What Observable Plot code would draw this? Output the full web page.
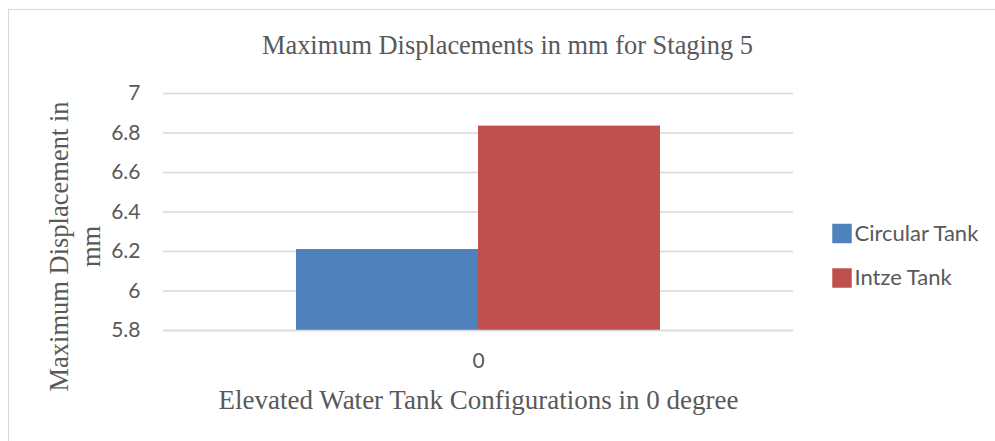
<!DOCTYPE html>
<html>
<head>
<meta charset="utf-8">
<script src="https://cdn.jsdelivr.net/npm/d3@7"></script>
<script src="https://cdn.jsdelivr.net/npm/@observablehq/plot@0.6"></script>
<style>
  html, body { margin: 0; padding: 0; background: #fff; overflow: hidden; }
  #wrap { position: relative; width: 995px; height: 441px; }
  #border { position: absolute; left: 8px; top: 9px; width: 2000px; height: 1000px;
            border: 1px solid #d9d9d9; pointer-events: none; }
</style>
</head>
<body>
<div id="wrap"><div id="border"></div></div>
<script>
// ---- data ----
const categories = ["0"];
const seriesNames = ["Circular Tank", "Intze Tank"];
const seriesValues = [6.21, 6.835];
const seriesColors = ["#4F81BD", "#C0504D"];
const yTicks = [5.8, 6, 6.2, 6.4, 6.6, 6.8, 7];
const yDomain = [5.8, 7];
const titleText = "Maximum Displacements in mm for Staging 5";
const xTitle = "Elevated Water Tank Configurations in 0 degree";
const yTitle = "Maximum Displacement in\nmm";

const rows = seriesNames.map((s, i) => ({config: categories[0], series: s, value: seriesValues[i]}));

const textGray = "#595959";
const serif = "'Liberation Serif', 'Times New Roman', serif";
const sans = "Lato, 'Open Sans', sans-serif";

const legendMarks = seriesNames.flatMap((s, i) => [
  Plot.dot([s], {frameAnchor: "right", dx: 48.5, dy: 21.5 + 44.5 * i, r: 11, symbol: "square",
                 fill: seriesColors[i], stroke: null}),
  Plot.text([s], {frameAnchor: "right", dx: 61, dy: 21.5 + 44.5 * i, text: d => d, textAnchor: "start",
                  lineAnchor: "middle", fontSize: 22, fontFamily: sans, fill: textGray})
]);

const chart = Plot.plot({
  width: 995,
  height: 441,
  marginTop: 93,
  marginBottom: 111,
  marginLeft: 163,
  marginRight: 202,
  style: {background: "#fff", overflow: "visible"},
  fx: {domain: categories, padding: 0, label: null},
  x: {domain: seriesNames, paddingInner: 0, paddingOuter: 0.726, axis: null},
  y: {domain: yDomain, label: null},
  color: {domain: seriesNames, range: seriesColors},
  marks: [
    Plot.gridY(yTicks, {stroke: "#d9d9d9", strokeOpacity: 1, strokeWidth: 1.3}),
    Plot.barY(rows, {fx: "config", x: "series", y1: yDomain[0], y2: "value", fill: "series", inset: 0}),
    Plot.ruleY([yDomain[0]], {stroke: "#d9d9d9", strokeWidth: 1.3}),
    Plot.axisY(yTicks, {tickSize: 0, tickPadding: 23, fontSize: 21, fontFamily: sans, fill: textGray,
                        tickFormat: d3.format("~g"), label: null}),
    Plot.axisFx({anchor: "bottom", tickSize: 0, tickPadding: 23, fontSize: 21, fontFamily: sans,
                 fill: textGray, label: null}),
    Plot.text([titleText], {frameAnchor: "top", dx: 29, dy: -48.3, text: d => d, lineAnchor: "middle",
                            fontSize: 26.4, fontFamily: serif, fill: textGray}),
    Plot.text([xTitle], {frameAnchor: "bottom", dx: 0, dy: 70, text: d => d, lineAnchor: "middle",
                         fontSize: 27, fontFamily: serif, fill: textGray}),
    Plot.text([yTitle], {frameAnchor: "left", dx: -89.5, dy: 34.5, text: d => d, rotate: -90,
                         textAnchor: "middle", lineAnchor: "middle", lineHeight: 1.2,
                         fontSize: 26.5, fontFamily: serif, fill: textGray}),
    ...legendMarks
  ]
});
document.getElementById("wrap").prepend(chart);
</script>
</body>
</html>
